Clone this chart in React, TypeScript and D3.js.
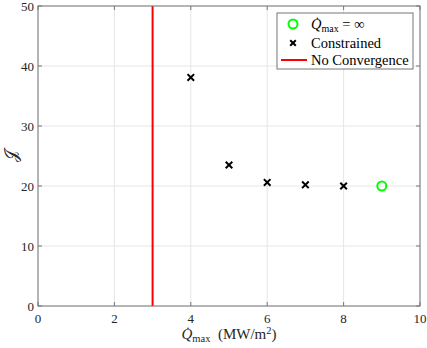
import React from "react";
import * as d3 from "d3";

const W = 427;
const H = 348;
const margin = { top: 6, right: 7, bottom: 42, left: 38 };

const xTicks = [0, 2, 4, 6, 8, 10];
const yTicks = [0, 10, 20, 30, 40, 50];

// constrained runs
const qMax = [4, 5, 6, 7, 8];
const objective = [38.1, 23.5, 20.6, 20.2, 20.0];

// unconstrained run (plotted at 9)
const unconstrainedX = [9];
const unconstrainedY = [20.0];

// no convergence below this
const noConvergenceX = 3;

const FONT = "'Liberation Serif', 'DejaVu Serif', serif";

export default function App() {
  const x = d3.scaleLinear().domain([0, 10]).range([margin.left, W - margin.right]);
  const y = d3.scaleLinear().domain([0, 50]).range([H - margin.bottom, margin.top]);
  const [x0, x1] = x.range();
  const [y0, y1] = y.range();

  const cross = (cx: number, cy: number, s: number) =>
    `M${cx - s},${cy - s}L${cx + s},${cy + s}M${cx - s},${cy + s}L${cx + s},${cy - s}`;

  const lg = { x: 277, y: 13, w: 136, h: 56 };
  const ts = { fontFamily: FONT };

  return (
    <div style={{ position: "fixed", left: 0, top: 0 }}>
      <svg width={W} height={H} style={{ display: "block", background: "#fff" }}>
        {/* grid */}
        {xTicks.map((t) => (
          <line key={"gx" + t} x1={x(t)} x2={x(t)} y1={y0} y2={y1} stroke="#e6e6e6" />
        ))}
        {yTicks.map((t) => (
          <line key={"gy" + t} x1={x0} x2={x1} y1={y(t)} y2={y(t)} stroke="#e6e6e6" />
        ))}

        <line x1={x(noConvergenceX)} x2={x(noConvergenceX)} y1={y0} y2={y1} stroke="#ff0000" strokeWidth={2} />

        <rect x={x0} y={y1} width={x1 - x0} height={y0 - y1} fill="none" stroke="#777" strokeWidth={1} />

        {xTicks.map((t) => (
          <g key={"tx" + t}>
            <line x1={x(t)} x2={x(t)} y1={y0} y2={y0 - 4} stroke="#777" />
            <line x1={x(t)} x2={x(t)} y1={y1} y2={y1 + 4} stroke="#777" />
            <text x={x(t)} y={y0 + 17} textAnchor="middle" fontSize={13} fill="#262626" style={ts}>{t}</text>
          </g>
        ))}
        {yTicks.map((t) => (
          <g key={"ty" + t}>
            <line x1={x0} x2={x0 + 4} y1={y(t)} y2={y(t)} stroke="#777" />
            <line x1={x1} x2={x1 - 4} y1={y(t)} y2={y(t)} stroke="#777" />
            <text x={x0 - 4} y={y(t) + 4.5} textAnchor="end" fontSize={13} fill="#262626" style={ts}>{t}</text>
          </g>
        ))}

        {qMax.map((q, i) => (
          <path key={"c" + i} d={cross(x(q), y(objective[i]), 3.3)} stroke="#000" strokeWidth={2} fill="none" />
        ))}
        {unconstrainedX.map((q, i) => (
          <circle key={"u" + i} cx={x(q)} cy={y(unconstrainedY[i])} r={4.5} fill="none" stroke="#00ff00" strokeWidth={2} />
        ))}

        <text x={(x0 + x1) / 2} y={339} textAnchor="middle" fontSize={15} fill="#262626" style={ts}>
          <tspan fontStyle="italic">Q̇</tspan>
          <tspan fontSize={10.5} dy={3}>max</tspan>
          <tspan dy={-3}>{"\u00a0 (MW/m"}</tspan>
          <tspan fontSize={10.5} dy={-5}>2</tspan>
          <tspan dy={5}>)</tspan>
        </text>
        <text
          transform={`translate(${17},${(y0 + y1) / 2}) rotate(-90)`}
          textAnchor="middle"
          fontSize={17}
          fill="#262626"
          style={ts}
        >
          𝒥
        </text>

        <rect x={lg.x} y={lg.y} width={lg.w} height={lg.h} fill="#fff" stroke="#777" />
        <circle cx={lg.x + 16} cy={lg.y + 11} r={4.5} fill="none" stroke="#00ff00" strokeWidth={2} />
        <text x={lg.x + 34} y={lg.y + 16} fontSize={14.5} fill="#000" style={ts}>
          <tspan fontStyle="italic">Q̇</tspan>
          <tspan fontSize={10} dy={3}>max</tspan>
          <tspan dy={-3}>{"\u00a0= ∞"}</tspan>
        </text>
        <path d={cross(lg.x + 16, lg.y + 30, 2.8)} stroke="#000" strokeWidth={2} fill="none" />
        <text x={lg.x + 34} y={lg.y + 35} fontSize={14.5} fill="#000" style={ts}>Constrained</text>
        <line x1={lg.x + 4} x2={lg.x + 30} y1={lg.y + 47} y2={lg.y + 47} stroke="#ff0000" strokeWidth={2} />
        <text x={lg.x + 34} y={lg.y + 52} fontSize={14.5} fill="#000" style={ts}>No Convergence</text>
      </svg>
    </div>
  );
}
